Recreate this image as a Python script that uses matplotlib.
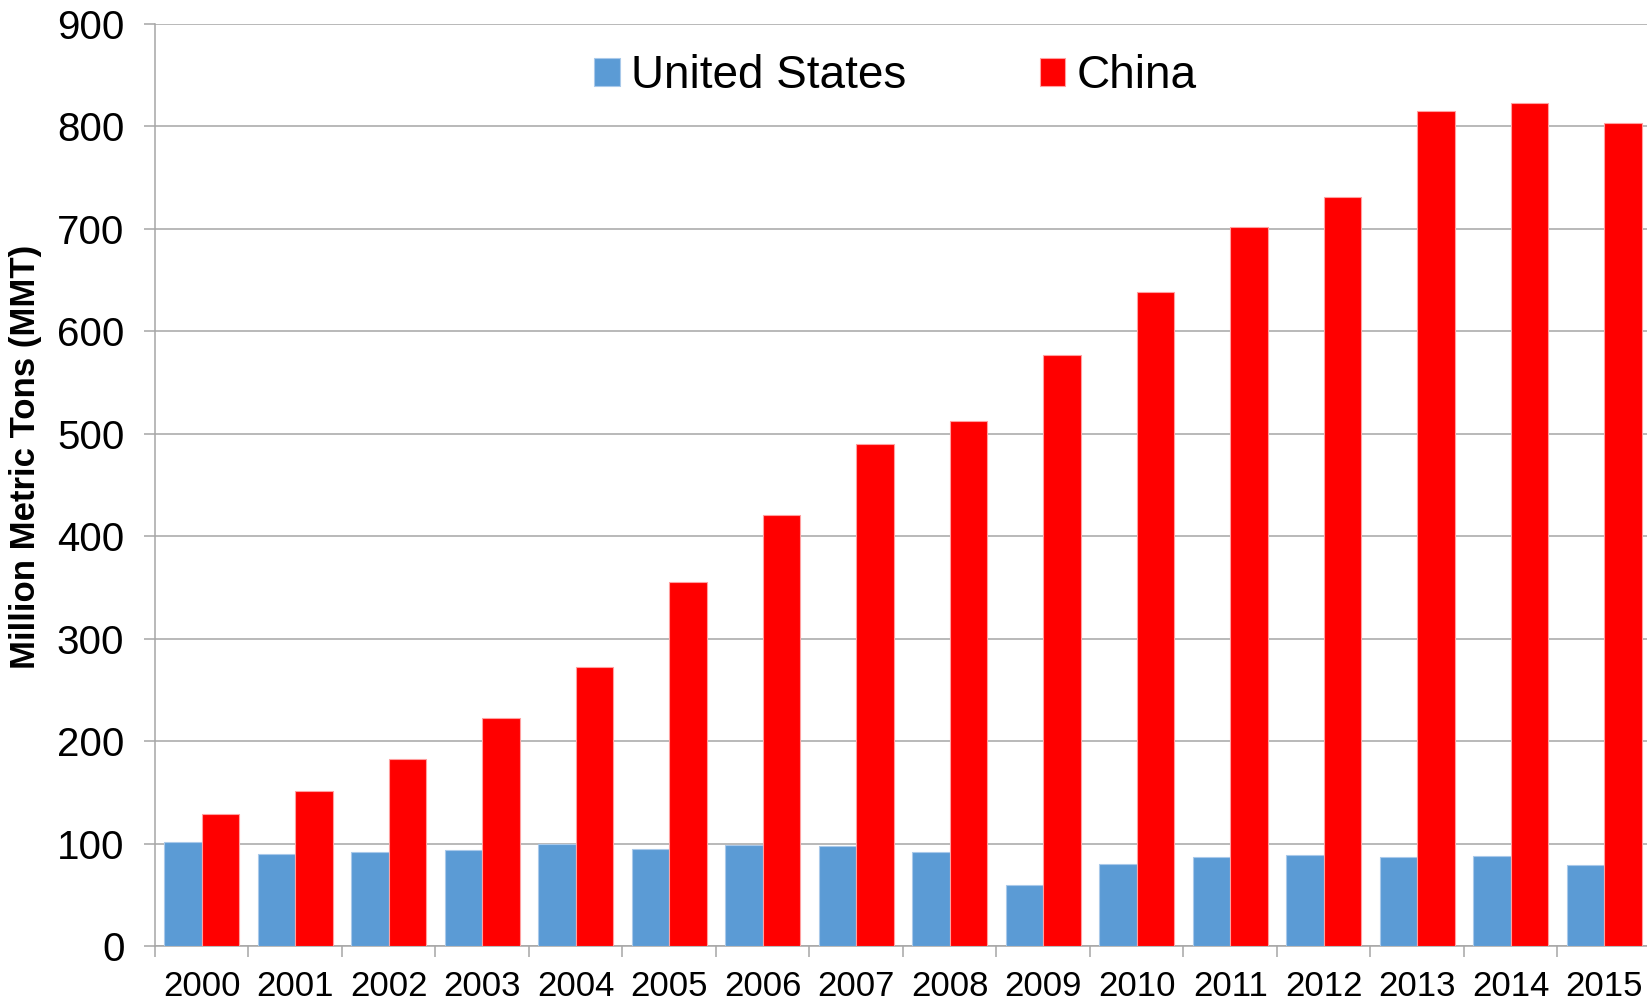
import numpy as np
import matplotlib
matplotlib.use("Agg")
import matplotlib.pyplot as plt
from matplotlib.ticker import FixedLocator

plt.rcParams["font.family"] = ["Liberation Sans", "DejaVu Sans"]

years = [str(y) for y in range(2000, 2016)]
us = [101.8, 90.1, 91.6, 93.7, 99.7, 94.9, 98.6, 98.1, 91.4, 59.4, 80.5, 86.4, 88.7, 86.9, 88.2, 78.8]
china = [128.5, 151.6, 182.2, 222.4, 272.8, 355.8, 421.0, 489.7, 512.3, 577.1, 638.7, 701.9, 731.0, 815.4, 822.7, 803.8]

BLUE = "#5B9BD5"
RED = "#FF0000"
GRID = "#A6A6A6"

fig = plt.figure(figsize=(16.47, 10), dpi=100)
ax = fig.add_axes([0.0941, 0.054, 0.9083, 0.922])

x = np.arange(len(years))
w = 0.4
ax.bar(x - w / 2, us, w, color=BLUE, edgecolor="#A9C9EA", linewidth=0.8, label="United States", zorder=3)
ax.bar(x + w / 2, china, w, color=RED, edgecolor="#FFA0A0", linewidth=0.8, label="China", zorder=3)

ax.set_xlim(-0.5, len(years) - 0.5)
ax.set_ylim(0, 900)
ax.set_yticks(range(0, 901, 100))
ax.yaxis.grid(True, color=GRID, linewidth=1.1, zorder=0)
ax.set_axisbelow(True)

ax.set_xticks(x)
ax.set_xticklabels(years, fontsize=25)
ax.xaxis.set_minor_locator(FixedLocator(np.arange(-0.5, len(years), 1.0)))
ax.tick_params(axis="x", which="major", length=0, pad=17)
ax.tick_params(axis="x", which="minor", length=8, width=1.1, color=GRID)
ax.tick_params(axis="y", length=8, width=1.1, color=GRID, labelsize=29, pad=14)

for s in ["top", "right"]:
    ax.spines[s].set_visible(False)
ax.spines["left"].set_color(GRID)
ax.spines["left"].set_linewidth(1.1)
ax.spines["bottom"].set_color(GRID)
ax.spines["bottom"].set_linewidth(1.1)

ax.set_ylabel("Million Metric Tons (MMT)", fontsize=25, fontweight="bold")
ax.yaxis.set_label_coords(-0.0755, 0.531)

leg = ax.legend(loc="upper center", bbox_to_anchor=(0.495, 1.0), ncol=2, frameon=False,
                fontsize=33, handlelength=0.56, handleheight=0.56, handletextpad=0.25,
                columnspacing=2.9, borderaxespad=0.26)

fig.savefig("out.png", dpi=100)
